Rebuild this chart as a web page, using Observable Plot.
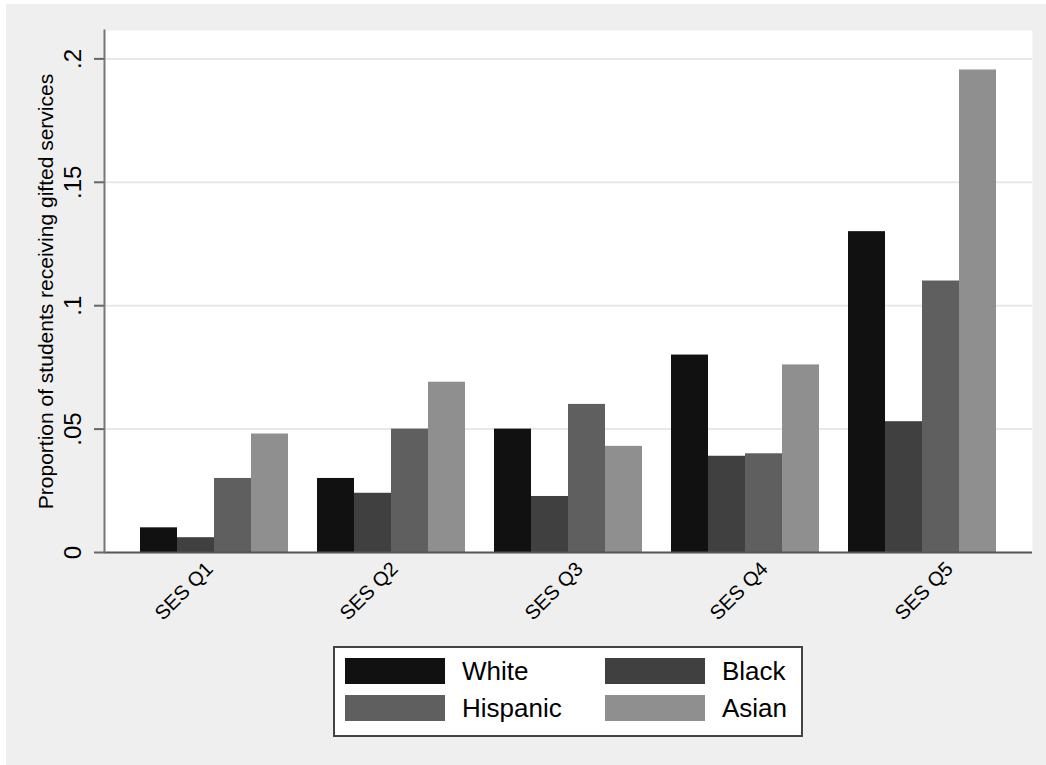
<!DOCTYPE html>
<html>
<head>
<meta charset="utf-8">
<script src="https://cdn.jsdelivr.net/npm/d3@7"></script>
<script src="https://cdn.jsdelivr.net/npm/@observablehq/plot@0.6"></script>
<style>
  html, body { margin: 0; padding: 0; background: #ffffff; }
  #wrap { position: absolute; left: 6px; top: 4px; width: 1040px; height: 761px; background: #efefef; font-family: "Liberation Sans", Arial, Helvetica, sans-serif; }
  #base, #bars { position: absolute; left: 0; top: 0; }
  #base svg, #bars svg { display: block; }
  #legend { position: absolute; left: 327px; top: 642px; width: 446px; height: 67px; padding: 10px; border: 2px solid #444; background: #fff;
    display: grid; grid-template-columns: 100px 160px 100px auto; grid-template-rows: 26px 26px; row-gap: 11px; }
  #legend .sw { width: 100px; height: 26px; }
  #legend .lb { font-size: 26px; line-height: 26px; color: #000; padding-left: 17px; white-space: nowrap; }
</style>
</head>
<body>
<div id="wrap">
  <div id="base"></div>
  <div id="bars"></div>
  <div id="legend"></div>
</div>
<script>
const ses = ["SES Q1", "SES Q2", "SES Q3", "SES Q4", "SES Q5"];
const races = ["White", "Black", "Hispanic", "Asian"];
const white = [0.010, 0.030, 0.050, 0.080, 0.130];
const black = [0.006, 0.024, 0.0227, 0.039, 0.053];
const hispanic = [0.030, 0.050, 0.060, 0.040, 0.110];
const asian = [0.048, 0.069, 0.043, 0.076, 0.1955];
const yTicks = [0, 0.05, 0.1, 0.15, 0.2];
const colors = ["#111111", "#404040", "#5f5f5f", "#8f8f8f"];
const yTitle = "Proportion of students receiving gifted services";

const series = [white, black, hispanic, asian];
const data = [];
ses.forEach((s, i) => races.forEach((r, j) => data.push({ses: s, race: r, value: series[j][i]})));

const fmt = d => d === 0 ? "0" : String(d).replace(/^0/, "");
const font = "Liberation Sans, Arial, Helvetica, sans-serif";

const common = {
  width: 1040,
  height: 631,
  marginLeft: 98,
  marginRight: 14,
  marginTop: 26,
  marginBottom: 83,
  style: {background: "transparent", fontFamily: font, color: "#000", overflow: "visible"},
  y: {domain: [0, 0.2115], axis: null}
};
const groupPadding = {paddingInner: 0.145, paddingOuter: 0.185};

// Background layer: plot area, grid, axes and labels
const base = Plot.plot({
  ...common,
  x: {domain: ses, ...groupPadding, label: null},
  marks: [
    Plot.frame({fill: "white", stroke: null}),
    Plot.ruleY(yTicks.slice(1), {stroke: "#e8e8e8", strokeWidth: 2}),
    Plot.axisY(yTicks, {tickSize: 10, tickFormat: () => "", label: null, stroke: "#666", strokeWidth: 2}),
    Plot.text(yTicks, {y: d => d, text: fmt, frameAnchor: "left", dx: -31, rotate: -90, fontSize: 24, textAnchor: "middle", lineAnchor: "middle", fill: "#000"}),
    Plot.text([yTitle], {text: d => d, frameAnchor: "left", dx: -58, rotate: -90, fontSize: 21, textAnchor: "middle", lineAnchor: "middle", fill: "#000"}),
    Plot.axisX({anchor: "bottom", tickRotate: -45, tickSize: 0, tickPadding: 10, dx: 11, dy: 3, fontSize: 20, label: null, fill: "#000"})
  ]
});
document.getElementById("base").appendChild(base);

// Bars layer: grouped bars via fx facets on the same band layout
const bars = Plot.plot({
  ...common,
  fx: {domain: ses, ...groupPadding, label: null, axis: null},
  x: {domain: races, padding: 0, axis: null},
  color: {domain: races, range: colors},
  marks: [
    Plot.barY(data, {fx: "ses", x: "race", y: "value", fill: "race"})
  ]
});
document.getElementById("bars").appendChild(bars);

// Axis lines on top
const lines = Plot.plot({
  ...common,
  x: {domain: ses, ...groupPadding, axis: null},
  marks: [
    Plot.ruleY([0], {stroke: "#555", strokeWidth: 2}),
    Plot.frame({anchor: "left", stroke: "#777", strokeWidth: 2})
  ]
});
lines.style.position = "absolute";
lines.style.left = "0px";
lines.style.top = "0px";
document.getElementById("bars").appendChild(lines);

const legend = document.getElementById("legend");
races.forEach((r, j) => {
  const sw = document.createElement("div");
  sw.className = "sw";
  sw.style.background = colors[j];
  const lb = document.createElement("div");
  lb.className = "lb";
  lb.textContent = r;
  legend.appendChild(sw);
  legend.appendChild(lb);
});
</script>
</body>
</html>
